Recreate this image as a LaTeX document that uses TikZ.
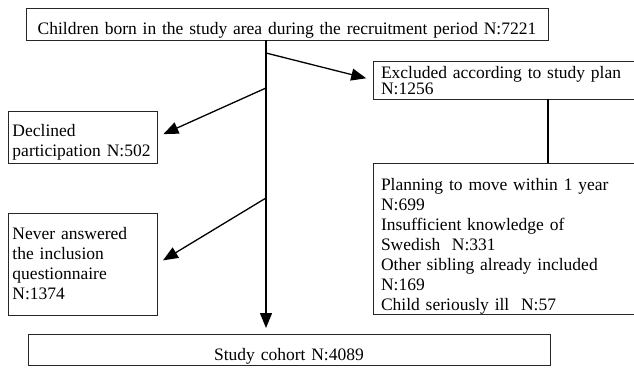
\documentclass[tikz,border=0pt]{standalone}
\usepackage{fontspec}
\setmainfont{Liberation Serif}
\usetikzlibrary{arrows.meta}

\begin{document}
\begin{tikzpicture}[
  x=1pt, y=-1pt,
  box/.style={draw=black!85, line width=0.9pt, anchor=north west, inner xsep=6pt, inner ysep=0pt, outer sep=0pt, font=\fontsize{17.5}{20}\selectfont},
  arrow/.style={-{Triangle[length=15pt,width=12pt]}, line width=1.3pt},
  link/.style={line width=1.1pt}
]

\useasboundingbox (0,0) rectangle (634,367);

% Boxes
\node[box, text width=510pt, align=center, text height=26pt, text depth=6pt] (born) at (26,8)
  {Children born in the study area during the recruitment period N:7221};
\node[box, inner xsep=8pt, text width=262pt, align=left, text height=17pt, text depth=21pt] (excl) at (373,61)
  {Excluded according to study plan\\[-4pt]N:1256};
\node[box, inner xsep=4.5pt, text width=140pt, align=left, text height=25pt, text depth=27pt] (decl) at (8,111)
  {Declined\\participation N:502};
\node[box, inner xsep=8pt, text width=262pt, align=left, text height=27pt, text depth=124pt] (reasons) at (373,163)
  {Planning to move within 1 year\\N:699\\Insufficient knowledge of\\Swedish~ N:331\\Other sibling already included\\N:169\\Child seriously ill~ N:57};
\node[box, inner xsep=4.5pt, text width=140pt, align=left, text height=26pt, text depth=76pt] (never) at (8,213)
  {Never answered\\the inclusion\\questionnaire\\N:1374};
\node[box, text width=510pt, align=center, text height=26pt, text depth=5pt] (cohort) at (28,334)
  {Study cohort N:4089};

% Points on the main line
\coordinate (t0) at (266,40);
\coordinate (t1) at (266,53);
\coordinate (t2) at (266,88);
\coordinate (t3) at (266,198);

% Arrows
\draw[arrow, shorten >=6pt] (t0) -- (t0 |- cohort.north);
\draw[arrow, shorten >=7pt] (t1) -- (excl.west);
\draw[arrow, shorten >=7pt] (t2) -- (decl.east);
\draw[arrow, shorten >=7pt] (t3) -- (never.east);
\draw[link] (born.south east |- excl.south) -- (born.south east |- reasons.north);

\end{tikzpicture}
\end{document}
